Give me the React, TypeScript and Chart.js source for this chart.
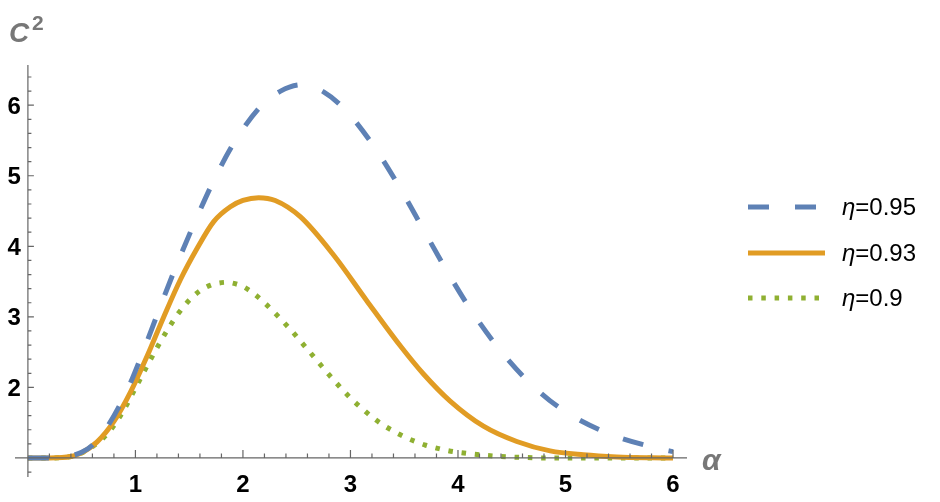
import React, { useEffect, useRef } from "react";
import { Chart, registerables } from "chart.js";

Chart.register(...registerables);

// alpha values and C^2 values
const blueX = [0, 0.2, 0.4, 0.5, 0.6, 0.737, 0.923, 1.077, 1.232, 1.387, 1.557, 1.728, 1.914, 2.162, 2.35, 2.55, 2.75, 2.967, 3.23, 3.463, 3.664, 3.881, 4.098, 4.346, 4.624, 4.95, 5.399, 5.895, 6.0];
const blueY = [1.0, 1.0, 1.03, 1.08, 1.18, 1.44, 1.96, 2.53, 3.15, 3.75, 4.36, 4.93, 5.46, 5.98, 6.2, 6.29, 6.19, 5.91, 5.39, 4.82, 4.277, 3.691, 3.149, 2.616, 2.13, 1.706, 1.347, 1.124, 1.09];

const orangeX = [0, 0.2, 0.4, 0.489, 0.644, 0.8, 0.954, 1.109, 1.263, 1.418, 1.573, 1.728, 1.883, 2.0, 2.146, 2.3, 2.533, 2.843, 3.153, 3.463, 3.679, 3.927, 4.237, 4.547, 4.857, 5.166, 5.477, 5.8, 6.0];
const orangeY = [1.0, 1.0, 1.02, 1.065, 1.228, 1.517, 1.933, 2.444, 2.999, 3.526, 3.968, 4.35, 4.56, 4.65, 4.69, 4.65, 4.42, 3.877, 3.226, 2.59, 2.19, 1.806, 1.45, 1.233, 1.1, 1.045, 1.015, 1.003, 1.0];

const greenX = [0, 0.2, 0.4, 0.5, 0.6, 0.7, 0.8, 0.9, 1.0, 1.1, 1.2, 1.3, 1.4, 1.5, 1.6, 1.7, 1.8, 1.85, 1.9, 2.0, 2.1, 2.2, 2.3, 2.4, 2.5, 2.6, 2.7, 2.8, 2.9, 3.0, 3.1, 3.2, 3.3, 3.4, 3.5, 3.6, 3.7, 3.8, 3.9, 4.0, 4.2, 4.4, 4.6, 4.8, 5.0, 6.0];
const greenY = [1.0, 1.0, 1.02, 1.07, 1.16, 1.28, 1.46, 1.7, 1.99, 2.28, 2.56, 2.82, 3.05, 3.235, 3.37, 3.45, 3.485, 3.49, 3.48, 3.43, 3.33, 3.2, 3.05, 2.89, 2.72, 2.54, 2.36, 2.18, 2.01, 1.85, 1.71, 1.58, 1.47, 1.38, 1.3, 1.235, 1.18, 1.14, 1.105, 1.08, 1.045, 1.02, 1.008, 1.0, 1.0, 1.0];

const seriesLabels = ["0.95", "0.93", "0.9"];
const xTickLabels = [1, 2, 3, 4, 5, 6];
const yTickLabels = [2, 3, 4, 5, 6];

const BLUE = "#5E81B5";
const ORANGE = "#E19C24";
const GREEN = "#8FB032";
const AXIS = "#666666";

const toPts = (xs: number[], ys: number[]) => xs.map((x, i) => ({ x, y: ys[i] }));

const axesPlugin = {
  id: "mmaAxes",
  afterDatasetsDraw(chart: any) {
    const ctx = chart.ctx;
    const xs = chart.scales.x;
    const ys = chart.scales.y;
    const x0 = xs.getPixelForValue(0);
    const y1 = ys.getPixelForValue(1);
    ctx.save();
    ctx.strokeStyle = AXIS;
    ctx.lineWidth = 1.2;
    ctx.setLineDash([]);
    ctx.beginPath();
    ctx.moveTo(xs.left, y1);
    ctx.lineTo(xs.right, y1);
    ctx.moveTo(x0, ys.top);
    ctx.lineTo(x0, ys.bottom);
    ctx.stroke();
    ctx.beginPath();
    for (let k = 1; k <= 30; k++) {
      const v = k * 0.2;
      if (v < xs.min || v > xs.max) continue;
      const px = xs.getPixelForValue(v);
      const major = k % 5 === 0;
      ctx.moveTo(px, y1);
      ctx.lineTo(px, y1 - (major ? 8 : 4.5));
    }
    for (let k = 4; k <= 33; k++) {
      const v = k * 0.2;
      if (v < ys.min || v > ys.max) continue;
      if (k === 5) continue;
      const py = ys.getPixelForValue(v);
      const major = k % 5 === 0;
      ctx.moveTo(x0, py);
      ctx.lineTo(x0 + (major ? 6 : 3.5), py);
    }
    ctx.stroke();
    ctx.fillStyle = "#000";
    ctx.font = "bold 24px 'Liberation Sans', Arial, sans-serif";
    ctx.textAlign = "center";
    ctx.textBaseline = "alphabetic";
    xTickLabels.forEach((v) => {
      ctx.fillText(String(v), xs.getPixelForValue(v), 492);
    });
    ctx.textAlign = "right";
    yTickLabels.forEach((v) => {
      ctx.fillText(String(v), x0 - 7, ys.getPixelForValue(v) + 8.5);
    });
    ctx.fillStyle = "#777";
    ctx.textAlign = "left";
    ctx.font = "italic bold 28px 'Liberation Sans', Arial, sans-serif";
    ctx.fillText("C", 9, 42);
    ctx.font = "bold 21px 'Liberation Sans', Arial, sans-serif";
    ctx.fillText("2", 32, 30);
    ctx.font = "italic bold 30px 'Liberation Sans', Arial, sans-serif";
    ctx.fillText("α", 702, 470);

    const items = [
      { color: BLUE, dash: [21, 26], y: 207 },
      { color: ORANGE, dash: [], y: 253 },
      { color: GREEN, dash: [4.5, 8.8], y: 298 },
    ];
    items.forEach((it, i) => {
      ctx.save();
      ctx.strokeStyle = it.color;
      ctx.lineWidth = 5;
      ctx.lineCap = "butt";
      ctx.setLineDash(it.dash);
      ctx.beginPath();
      ctx.moveTo(748, it.y);
      ctx.lineTo(825, it.y);
      ctx.stroke();
      ctx.restore();
      ctx.fillStyle = "#000";
      ctx.textAlign = "left";
      ctx.font = "italic 24px 'Liberation Sans', Arial, sans-serif";
      ctx.fillText("η", 842, it.y + 8);
      const w = ctx.measureText("η").width;
      ctx.font = "24px 'Liberation Sans', Arial, sans-serif";
      ctx.fillText("=" + seriesLabels[i], 842 + w, it.y + 8);
    });
    ctx.restore();
  },
};

export default function App() {
  const ref = useRef<HTMLCanvasElement | null>(null);
  useEffect(() => {
    document.body.style.margin = "0";
    if (!ref.current) return;
    const common = {
      borderWidth: 5,
      pointRadius: 0,
      cubicInterpolationMode: "monotone" as const,
      fill: false,
      borderCapStyle: "butt" as const,
    };
    const chart = new Chart(ref.current, {
      type: "line",
      data: {
        datasets: [
          { ...common, label: "η=0.95", data: toPts(blueX, blueY), borderColor: BLUE, borderDash: [21, 26] },
          { ...common, label: "η=0.93", data: toPts(orangeX, orangeY), borderColor: ORANGE },
          { ...common, label: "η=0.9", data: toPts(greenX, greenY), borderColor: GREEN, borderDash: [4.5, 8.8] },
        ],
      },
      options: {
        responsive: false,
        animation: false,
        layout: { padding: { left: 15, right: 253, top: 65, bottom: 25 } },
        plugins: { legend: { display: false }, tooltip: { enabled: false } },
        scales: {
          x: { type: "linear", min: -0.12, max: 6.13, display: false },
          y: { type: "linear", min: 0.73, max: 6.57, display: false },
        },
      },
      plugins: [axesPlugin],
    });
    return () => chart.destroy();
  }, []);
  return (
    <div style={{ width: 940, height: 502, background: "#fff" }}>
      <canvas ref={ref} width={940} height={502} />
    </div>
  );
}
